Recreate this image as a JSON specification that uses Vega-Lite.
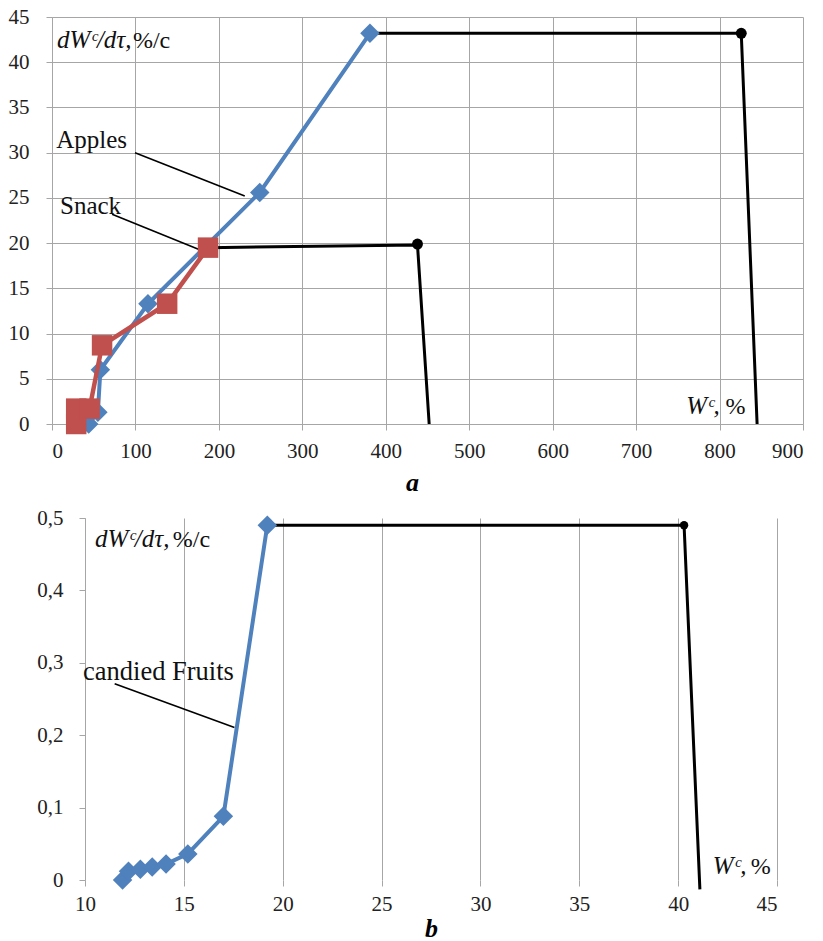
{
  "$schema": "https://vega.github.io/schema/vega-lite/v6.json",
  "background": "white",
  "padding": {"left": 0, "top": 6, "right": 0, "bottom": 0},
  "spacing": 12,
  "config": {
    "view": {"stroke": null},
    "font": "Liberation Serif",
    "axis": {
      "labelFont": "Liberation Serif", "labelFontSize": 21, "labelColor": "#222",
      "gridColor": "#a6a6a6", "gridWidth": 1, "domainColor": "#a6a6a6", "domainWidth": 1,
      "tickColor": "#a6a6a6", "tickSize": 6, "titleFont": "Liberation Serif"
    },
    "text": {"font": "Liberation Serif", "color": "#111"}
  },
  "datasets": {
    "apples": [
      {"x": 44, "y": 0}, {"x": 55, "y": 1.3}, {"x": 58, "y": 6.0}, {"x": 115, "y": 13.3},
      {"x": 249, "y": 25.6}, {"x": 381, "y": 43.2}
    ],
    "snack": [
      {"x": 29, "y": 0, "o": 0}, {"x": 29, "y": 1.7, "o": 1}, {"x": 45, "y": 1.7, "o": 2},
      {"x": 60, "y": 8.7, "o": 3}, {"x": 138, "y": 13.3, "o": 4}, {"x": 187, "y": 19.5, "o": 5}
    ],
    "blackA": [
      {"s": "apples", "x": 381, "y": 43.2, "o": 0}, {"s": "apples", "x": 826, "y": 43.2, "o": 1}, {"s": "apples", "x": 845, "y": 0, "o": 2},
      {"s": "snack", "x": 187, "y": 19.5, "o": 0}, {"s": "snack", "x": 438, "y": 19.8, "o": 1}, {"s": "snack", "x": 452, "y": 0, "o": 2}
    ],
    "dotsA": [{"x": 826, "y": 43.2}, {"x": 438, "y": 19.9}],
    "leadA": [
      {"s": "apples", "x": 99.5, "y": 30.0}, {"s": "apples", "x": 231, "y": 25.2},
      {"s": "snack", "x": 72, "y": 23.2}, {"s": "snack", "x": 189.5, "y": 18.8}
    ],
    "labelsA": [
      {"x": 5, "y": 30.5, "t": "Apples"},
      {"x": 9.6, "y": 23.2, "t": "Snack"}
    ],
    "italicA": [
      {"x": 6, "y": 41.6, "t": "dWᶜ/dτ,"},
      {"x": 760, "y": 1.1, "t": "Wᶜ,"}
    ],
    "uprightA": [
      {"x": 97, "y": 41.6, "t": "%/c"},
      {"x": 807, "y": 1.1, "t": "%"}
    ],
    "fruits": [
      {"x": 11.9, "y": 0}, {"x": 12.2, "y": 0.012}, {"x": 12.8, "y": 0.015}, {"x": 13.4, "y": 0.018},
      {"x": 14.1, "y": 0.022}, {"x": 15.2, "y": 0.036}, {"x": 17.0, "y": 0.088}, {"x": 19.22, "y": 0.49}
    ],
    "blackB": [
      {"x": 19.22, "y": 0.49, "o": 0}, {"x": 40.3, "y": 0.49, "o": 1}, {"x": 41.1, "y": -0.013, "o": 2}
    ],
    "dotsB": [{"x": 40.3, "y": 0.49}],
    "leadB": [{"x": 11.5, "y": 0.271}, {"x": 17.56, "y": 0.2105}],
    "labelsB": [{"x": 9.9, "y": 0.2756, "t": "candied Fruits"}],
    "italicB": [
      {"x": 10.5, "y": 0.46, "t": "dWᶜ/dτ,"},
      {"x": 41.75, "y": 0.008, "t": "Wᶜ,"}
    ],
    "uprightB": [
      {"x": 14.44, "y": 0.46, "t": "%/c"},
      {"x": 43.67, "y": 0.008, "t": "%"}
    ],
    "gridB": [{"y": 0}, {"y": 0.1}, {"y": 0.2}, {"y": 0.3}, {"y": 0.4}, {"y": 0.5}]
  },
  "vconcat": [
    {
      "width": 751,
      "height": 407,
      "encoding": {
        "x": {"field": "x", "type": "quantitative",
          "scale": {"domain": [0, 900], "nice": false, "zero": false},
          "axis": {"values": [0, 100, 200, 300, 400, 500, 600, 700, 800, 900], "title": "a",
            "labelFont": "Liberation Serif",
            "titleFontSize": 26, "titleFontStyle": "italic", "titleFontWeight": "bold", "titleX": 360,
            "labelPadding": 10, "titlePadding": 8, "minExtent": 10}},
        "y": {"field": "y", "type": "quantitative",
          "scale": {"domain": [0, 45], "nice": false},
          "axis": {"values": [0, 5, 10, 15, 20, 25, 30, 35, 40, 45], "title": null,
            "labelFont": "Liberation Serif",
            "labelPadding": 17, "minExtent": 52, "maxExtent": 52}}
      },
      "layer": [
        {"data": {"name": "blackA"}, "mark": {"type": "line", "color": "black", "strokeWidth": 3},
          "encoding": {"detail": {"field": "s"}, "order": {"field": "o"}}},
        {"data": {"name": "dotsA"}, "mark": {"type": "point", "shape": "circle", "filled": true, "color": "black", "size": 120, "opacity": 1}},
        {"data": {"name": "leadA"}, "mark": {"type": "line", "color": "black", "strokeWidth": 1.6},
          "encoding": {"detail": {"field": "s"}}},
        {"data": {"name": "apples"}, "mark": {"type": "line", "color": "#4F81BD", "strokeWidth": 4}, "encoding": {}},
        {"data": {"name": "apples"}, "mark": {"type": "point", "shape": "diamond", "filled": true, "color": "#4F81BD", "size": 380, "opacity": 1}},
        {"data": {"name": "snack"}, "mark": {"type": "line", "color": "#C0504D", "strokeWidth": 4.5},
          "encoding": {"order": {"field": "o"}}},
        {"data": {"name": "snack"}, "mark": {"type": "point", "shape": "square", "filled": true, "color": "#C0504D", "size": 420, "opacity": 1}},
        {"data": {"name": "labelsA"}, "mark": {"type": "text", "align": "left", "baseline": "alphabetic", "fontSize": 25},
          "encoding": {"text": {"field": "t"}}},
        {"data": {"name": "italicA"}, "mark": {"type": "text", "align": "left", "baseline": "alphabetic", "fontSize": 25, "fontStyle": "italic"},
          "encoding": {"text": {"field": "t"}}},
        {"data": {"name": "uprightA"}, "mark": {"type": "text", "align": "left", "baseline": "alphabetic", "fontSize": 24},
          "encoding": {"text": {"field": "t"}}}
      ]
    },
    {
      "width": 725,
      "height": 362,
      "encoding": {
        "x": {"field": "x", "type": "quantitative",
          "scale": {"domain": [8.331, 45], "nice": false, "zero": false},
          "axis": {"values": [10, 15, 20, 25, 30, 35, 40, 45], "title": "b", "domain": false,
            "labelFont": "Liberation Serif",
            "titleFontSize": 26, "titleFontStyle": "italic", "titleFontWeight": "bold", "titleX": 379,
            "labelPadding": 7, "titlePadding": 1}},
        "y": {"field": "y", "type": "quantitative",
          "scale": {"domain": [0, 0.5], "nice": false},
          "axis": {"values": [0, 0.1, 0.2, 0.3, 0.4, 0.5], "title": null, "grid": false, "offset": -33,
            "labelFont": "Liberation Serif",
            "labelExpr": "datum.value == 0 ? '0' : replace(format(datum.value, '.1f'), '.', ',')",
            "labelPadding": 16, "minExtent": 52, "maxExtent": 52}}
      },
      "layer": [
        {"data": {"name": "gridB"}, "mark": {"type": "rule", "color": "#a6a6a6", "strokeWidth": 1},
          "encoding": {"x": {"datum": 10}, "x2": {"datum": 45}}},
        {"data": {"name": "blackB"}, "mark": {"type": "line", "color": "black", "strokeWidth": 3},
          "encoding": {"order": {"field": "o"}}},
        {"data": {"name": "dotsB"}, "mark": {"type": "point", "shape": "circle", "filled": true, "color": "black", "size": 70, "opacity": 1}},
        {"data": {"name": "leadB"}, "mark": {"type": "line", "color": "black", "strokeWidth": 1.6}, "encoding": {}},
        {"data": {"name": "fruits"}, "mark": {"type": "line", "color": "#4F81BD", "strokeWidth": 4}, "encoding": {}},
        {"data": {"name": "fruits"}, "mark": {"type": "point", "shape": "diamond", "filled": true, "color": "#4F81BD", "size": 380, "opacity": 1}},
        {"data": {"name": "labelsB"}, "mark": {"type": "text", "align": "left", "baseline": "alphabetic", "fontSize": 26.5},
          "encoding": {"text": {"field": "t"}}},
        {"data": {"name": "italicB"}, "mark": {"type": "text", "align": "left", "baseline": "alphabetic", "fontSize": 25, "fontStyle": "italic"},
          "encoding": {"text": {"field": "t"}}},
        {"data": {"name": "uprightB"}, "mark": {"type": "text", "align": "left", "baseline": "alphabetic", "fontSize": 24},
          "encoding": {"text": {"field": "t"}}}
      ]
    }
  ]
}
